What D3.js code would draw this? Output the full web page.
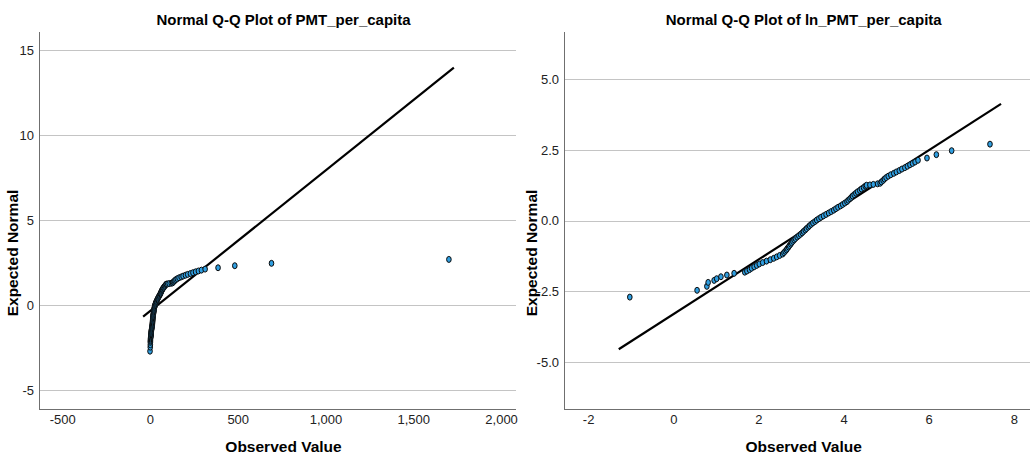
<!DOCTYPE html>
<html>
<head>
<meta charset="utf-8">
<script src="https://cdn.jsdelivr.net/npm/d3@7"></script>
<style>
  html, body { margin: 0; padding: 0; background: #ffffff; }
  svg { display: block; font-family: "Liberation Sans", Arial, sans-serif; }
</style>
</head>
<body>
<svg id="chart" width="1030" height="454"></svg>
<script>
// Expected normal (shared by both panels; same cases in rank order)
const expectedNormal = [
  -2.70, -2.46, -2.32, -2.18, -2.11, -2.05, -1.98, -1.92, -1.86, -1.82,
  -1.78, -1.73, -1.68, -1.63, -1.58, -1.53, -1.48, -1.43, -1.38, -1.33,
  -1.28, -1.23, -1.18, -1.13, -1.08, -1.03, -0.98, -0.93, -0.88, -0.83,
  -0.78, -0.73, -0.68, -0.63, -0.58, -0.53, -0.48, -0.43, -0.38, -0.33,
  -0.28, -0.23, -0.18, -0.13, -0.08, -0.03, 0.02, 0.07, 0.12, 0.17,
  0.22, 0.27, 0.32, 0.37, 0.42, 0.47, 0.52, 0.57, 0.62, 0.67,
  0.72, 0.77, 0.82, 0.87, 0.92, 0.97, 1.02, 1.07, 1.12, 1.17,
  1.22, 1.25, 1.26, 1.28, 1.30, 1.32, 1.37, 1.42, 1.47, 1.52,
  1.57, 1.62, 1.67, 1.72, 1.77, 1.82, 1.87, 1.92, 1.97, 2.02,
  2.07, 2.13, 2.21, 2.33, 2.47, 2.70
];

// Observed PMT_per_capita
const pmtObserved = [
  0.36, 1.75, 2.20, 2.27, 2.61, 2.77, 3.06, 3.53, 4.18, 5.37,
  5.64, 5.99, 6.30, 6.69, 7.10, 7.54, 8.17, 8.94, 9.78, 10.59,
  11.36, 12.18, 13.07, 13.46, 13.87, 14.30, 14.59, 15.03, 15.33, 15.80,
  16.12, 16.61, 17.12, 17.64, 18.36, 19.11, 19.89, 20.70, 21.33, 22.20,
  22.87, 23.81, 24.53, 25.53, 26.58, 27.94, 29.08, 30.57, 32.14, 34.12,
  36.23, 38.47, 40.85, 43.38, 45.60, 47.94, 50.91, 53.52, 56.26, 59.15,
  60.95, 63.43, 65.37, 67.36, 70.11, 72.97, 75.94, 79.84, 83.10, 87.36,
  90.92, 93.69, 101.5, 109.9, 121.5, 129.0, 132.9, 138.4, 142.6, 148.4,
  156.0, 165.7, 177.7, 188.7, 202.3, 214.9, 230.4, 244.7, 259.8, 275.9,
  293.0, 314.2, 387.9, 483.3, 692.3, 1702.8
];

// Observed ln_PMT_per_capita
const lnObserved = [
  -1.02, 0.56, 0.79, 0.82, 0.96, 1.02, 1.12, 1.26, 1.43, 1.68,
  1.73, 1.79, 1.84, 1.90, 1.96, 2.02, 2.10, 2.19, 2.28, 2.36,
  2.43, 2.50, 2.57, 2.60, 2.63, 2.66, 2.68, 2.71, 2.73, 2.76,
  2.78, 2.81, 2.84, 2.87, 2.91, 2.95, 2.99, 3.03, 3.06, 3.10,
  3.13, 3.17, 3.20, 3.24, 3.28, 3.33, 3.37, 3.42, 3.47, 3.53,
  3.59, 3.65, 3.71, 3.77, 3.82, 3.87, 3.93, 3.98, 4.03, 4.08,
  4.11, 4.15, 4.18, 4.21, 4.25, 4.29, 4.33, 4.38, 4.42, 4.47,
  4.51, 4.54, 4.62, 4.70, 4.80, 4.86, 4.89, 4.93, 4.96, 5.00,
  5.05, 5.11, 5.18, 5.24, 5.31, 5.37, 5.44, 5.50, 5.56, 5.62,
  5.68, 5.75, 5.96, 6.18, 6.54, 7.44
];

// Reference lines (endpoints)
const leftLineX = [-39, 1731];
const leftLineY = [-0.67, 13.98];
const rightLineX = [-1.28, 7.70];
const rightLineY = [-4.54, 4.12];

// Ticks
const leftXTicks = [-500, 0, 500, 1000, 1500, 2000];
const leftYTicks = [-5, 0, 5, 10, 15];
const rightXTicks = [-2, 0, 2, 4, 6, 8];
const rightYTicks = [-5, -2.5, 0, 2.5, 5];

const titles = ["Normal Q-Q Plot of PMT_per_capita", "Normal Q-Q Plot of ln_PMT_per_capita"];
const xTitle = "Observed Value";
const yTitle = "Expected Normal";

const locale = d3.formatLocale({ decimal: ".", thousands: ",", grouping: [3], currency: ["", ""], minus: "-" });

const svg = d3.select("#chart");

function panel(cfg) {
  const x = d3.scaleLinear().domain(cfg.xDomain).range([cfg.left, cfg.right]);
  const y = d3.scaleLinear().domain(cfg.yDomain).range([cfg.bottom, cfg.top]);
  const g = svg.append("g");

  // gridlines
  g.append("g").selectAll("line").data(cfg.yTicks).join("line")
    .attr("x1", cfg.left).attr("x2", cfg.right)
    .attr("y1", d => Math.round(y(d)) + 0.5).attr("y2", d => Math.round(y(d)) + 0.5)
    .attr("stroke", "#c4c4c4").attr("stroke-width", 1);

  // y axis (labels only)
  const yAxis = d3.axisLeft(y).tickValues(cfg.yTicks).tickSize(0).tickPadding(5)
    .tickFormat(cfg.yFmt);
  const ya = g.append("g").attr("transform", `translate(${cfg.left},0)`).call(yAxis);
  ya.select(".domain").remove();
  ya.selectAll("text").attr("font-size", 13).attr("fill", "#222")
    .attr("font-family", "'Liberation Sans', Arial, sans-serif");

  // x axis (labels only)
  const xAxis = d3.axisBottom(x).tickValues(cfg.xTicks).tickSize(0).tickPadding(6)
    .tickFormat(cfg.xFmt);
  const xa = g.append("g").attr("transform", `translate(0,${cfg.bottom})`).call(xAxis);
  xa.select(".domain").remove();
  xa.selectAll("text").attr("font-size", 13).attr("fill", "#222")
    .attr("font-family", "'Liberation Sans', Arial, sans-serif");

  // axis lines
  g.append("line").attr("x1", cfg.left + 0.5).attr("x2", cfg.left + 0.5)
    .attr("y1", cfg.top).attr("y2", cfg.bottom + 0.5)
    .attr("stroke", "#6f6f6f").attr("stroke-width", 1);
  g.append("line").attr("x1", cfg.left).attr("x2", cfg.right)
    .attr("y1", cfg.bottom + 0.5).attr("y2", cfg.bottom + 0.5)
    .attr("stroke", "#6f6f6f").attr("stroke-width", 1);

  // reference line
  g.append("line")
    .attr("x1", x(cfg.lineX[0])).attr("y1", y(cfg.lineY[0]))
    .attr("x2", x(cfg.lineX[1])).attr("y2", y(cfg.lineY[1]))
    .attr("stroke", "#000").attr("stroke-width", 2.2);

  // points
  const pts = cfg.xs.map((v, i) => ({ x: v, y: expectedNormal[i] }));
  g.append("g").selectAll("ellipse").data(pts).join("ellipse")
    .attr("cx", d => x(d.x)).attr("cy", d => y(d.y))
    .attr("rx", 2.3).attr("ry", 3)
    .attr("fill", "#2f9ee0").attr("stroke", "#0a0a0a").attr("stroke-width", 1);

  // titles
  g.append("text").attr("x", cfg.titleX).attr("y", 25)
    .attr("text-anchor", "middle").attr("font-weight", "bold").attr("font-size", 15)
    .attr("fill", "#000").text(cfg.title);
  g.append("text").attr("x", cfg.titleX).attr("y", 452)
    .attr("text-anchor", "middle").attr("font-weight", "bold").attr("font-size", 15.5)
    .attr("fill", "#000").text(xTitle);
  g.append("text").attr("transform", `translate(${cfg.yTitleX},253) rotate(-90)`)
    .attr("text-anchor", "middle").attr("dominant-baseline", "middle")
    .attr("font-weight", "bold").attr("font-size", 15.5)
    .attr("fill", "#000").text(yTitle);
}

panel({
  left: 39, right: 516, top: 32, bottom: 409,
  xDomain: [-632, 2085], yDomain: [-6.1, 16.08],
  xTicks: leftXTicks, yTicks: leftYTicks,
  xFmt: locale.format(",d"), yFmt: locale.format("d"),
  lineX: leftLineX, lineY: leftLineY,
  xs: pmtObserved,
  title: titles[0], titleX: 283.5, yTitleX: 14
});

panel({
  left: 564, right: 1030, top: 32, bottom: 409,
  xDomain: [-2.566, 8.38], yDomain: [-6.65, 6.66],
  xTicks: rightXTicks, yTicks: rightYTicks,
  xFmt: locale.format("d"), yFmt: locale.format(".1f"),
  lineX: rightLineX, lineY: rightLineY,
  xs: lnObserved,
  title: titles[1], titleX: 803.7, yTitleX: 532.5
});
</script>
</body>
</html>
